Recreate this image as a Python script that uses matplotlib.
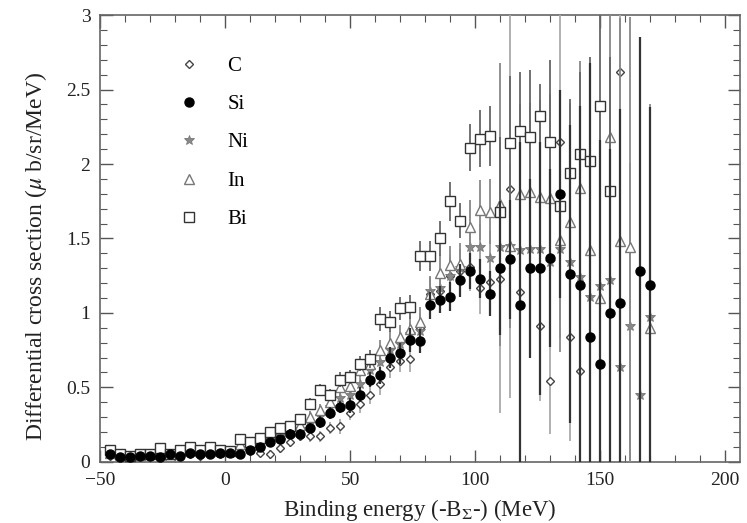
import numpy as np
import matplotlib
matplotlib.use("Agg")
import matplotlib.pyplot as plt
from matplotlib.ticker import MultipleLocator

plt.rcParams['font.family'] = ['Liberation Serif', 'DejaVu Serif']
plt.rcParams['mathtext.fontset'] = 'stix'

nan = np.nan

# binding energy bins (MeV), 4 MeV wide
energy = np.arange(-46, 171, 4)

c_val = [0.04, 0.03, 0.03, 0.03, 0.04, 0.03, 0.04, 0.05, 0.05, 0.04, 0.06, 0.05, 0.06, 0.05, 0.07, 0.06,
         0.05, 0.09, 0.13, 0.17, 0.17, 0.17, 0.23, 0.24, 0.33, 0.39, 0.45, 0.52, 0.64, 0.68, 0.69, 0.90,
         1.13, 1.15, 1.25, 1.28, 1.31, 1.17, 1.21, 1.23, 1.83, 1.14, nan, 0.91, 0.54, 2.15, 0.84, 0.61,
         nan, nan, nan, 2.62, nan, nan, nan]
c_err = [0.02, 0.02, 0.02, 0.02, 0.02, 0.02, 0.02, 0.02, 0.02, 0.02, 0.02, 0.02, 0.02, 0.02, 0.02, 0.03,
         0.03, 0.03, 0.03, 0.03, 0.04, 0.04, 0.04, 0.05, 0.05, 0.06, 0.06, 0.07, 0.08, 0.08, 0.09, 0.10,
         0.12, 0.13, 0.14, 0.15, 0.16, 0.18, 0.20, 0.9, 1.4, 0.55, nan, 0.5, 0.35, 1.2, 0.7, 0.9,
         nan, nan, nan, 1.6, nan, nan, nan]

si_val = [0.05, 0.03, 0.03, 0.04, 0.04, 0.03, 0.05, 0.04, 0.06, 0.05, 0.05, 0.06, 0.06, 0.05, 0.08, 0.10,
          0.13, 0.15, 0.19, 0.19, 0.23, 0.27, 0.33, 0.37, 0.38, 0.45, 0.55, 0.58, 0.70, 0.73, 0.82, 0.81,
          1.05, 1.09, 1.11, 1.22, 1.28, 1.23, 1.13, 1.30, 1.36, 1.05, 1.30, 1.30, 1.37, 1.80, 1.26, 1.19,
          0.84, 0.66, 1.00, 1.07, nan, 1.28, 1.19]
si_err = [0.015, 0.015, 0.015, 0.015, 0.015, 0.015, 0.015, 0.015, 0.02, 0.02, 0.02, 0.02, 0.02, 0.02, 0.02, 0.02,
          0.03, 0.03, 0.03, 0.03, 0.03, 0.04, 0.04, 0.04, 0.05, 0.05, 0.05, 0.06, 0.07, 0.07, 0.08, 0.08,
          0.09, 0.09, 0.10, 0.11, 0.12, 0.13, 0.15, 0.45, 0.40, 1.10, 0.60, 0.85, 0.60, 0.70, 1.00, 1.20,
          1.84, 1.50, 1.10, 1.30, nan, 1.57, 1.19]

ni_val = [0.05, 0.04, 0.03, 0.04, 0.04, 0.05, 0.04, 0.06, 0.07, 0.06, 0.07, 0.06, 0.06, 0.09, 0.09, 0.11,
          0.15, 0.17, 0.20, 0.22, 0.26, 0.31, 0.37, 0.43, 0.45, 0.52, 0.62, 0.67, 0.75, 0.79, 0.86, 0.88,
          1.15, 1.17, 1.25, 1.30, 1.44, 1.44, 1.37, 1.44, 1.45, 1.42, 1.43, 1.43, 1.34, 1.43, 1.34, 1.24,
          1.11, 1.18, 1.22, 0.64, 0.91, 0.45, 0.97]
ni_err = [0.02, 0.02, 0.02, 0.02, 0.02, 0.02, 0.02, 0.02, 0.02, 0.02, 0.02, 0.02, 0.02, 0.02, 0.02, 0.02,
          0.03, 0.03, 0.03, 0.03, 0.04, 0.04, 0.04, 0.05, 0.05, 0.05, 0.06, 0.06, 0.07, 0.08, 0.08, 0.09,
          0.10, 0.11, 0.12, 0.13, 0.15, 0.16, 0.18, 0.30, 0.35, 0.40, 0.45, 0.50, 0.55, 0.60, 0.65, 0.70,
          0.80, 0.90, 0.95, 1.00, 1.10, 1.20, 1.30]

in_val = [0.06, 0.04, 0.03, 0.04, 0.05, 0.07, 0.04, 0.07, 0.08, 0.07, 0.09, 0.07, 0.07, 0.12, 0.11, 0.13,
          0.17, 0.19, 0.21, 0.25, 0.30, 0.35, 0.40, 0.50, 0.51, 0.62, 0.66, 0.75, 0.80, 0.84, 0.89, 0.94,
          1.13, 1.27, 1.32, 1.33, 1.58, 1.69, 1.68, 1.73, 1.45, 1.80, 1.81, 1.78, 1.77, 1.49, 1.61, 1.84,
          1.42, 1.10, 2.18, 1.48, 1.44, nan, 0.90]
in_err = [0.02, 0.02, 0.02, 0.02, 0.02, 0.02, 0.02, 0.02, 0.02, 0.02, 0.02, 0.02, 0.02, 0.02, 0.02, 0.03,
          0.03, 0.03, 0.03, 0.03, 0.04, 0.04, 0.04, 0.05, 0.05, 0.05, 0.06, 0.07, 0.08, 0.08, 0.09, 0.10,
          0.11, 0.12, 0.13, 0.14, 0.18, 0.20, 0.22, 0.95, 0.55, 0.60, 0.60, 0.65, 0.70, 0.75, 0.80, 0.85,
          1.20, 1.30, 1.40, 1.50, 1.55, nan, 1.50]

bi_val = [0.08, 0.05, 0.04, 0.05, 0.05, 0.09, 0.05, 0.08, 0.10, 0.08, 0.10, 0.08, 0.07, 0.15, 0.13, 0.16,
          0.20, 0.23, 0.24, 0.29, 0.39, 0.48, 0.45, 0.55, 0.57, 0.66, 0.69, 0.96, 0.94, 1.03, 1.04, 1.38,
          1.38, 1.50, 1.75, 1.62, 2.11, 2.17, 2.19, 1.68, 2.14, 2.22, 2.18, 2.32, 2.15, 1.72, 1.94, 2.07,
          2.02, 2.39, 1.82, nan, nan, nan, nan]
bi_err = [0.02, 0.02, 0.02, 0.02, 0.02, 0.02, 0.02, 0.02, 0.02, 0.02, 0.02, 0.02, 0.02, 0.02, 0.03, 0.03,
          0.03, 0.03, 0.03, 0.03, 0.04, 0.04, 0.04, 0.05, 0.05, 0.05, 0.06, 0.08, 0.07, 0.08, 0.08, 0.10,
          0.10, 0.12, 0.13, 0.12, 0.16, 0.19, 0.20, 0.50, 0.45, 0.40, 0.45, 0.22, 0.55, 0.60, 0.50, 0.55,
          0.70, 0.80, 0.90, nan, nan, nan, nan]

fig = plt.figure(figsize=(7.47, 5.23), dpi=100)
ax = fig.add_axes([0.134, 0.117, 0.857, 0.854])

# open diamonds, light bars
ax.errorbar(energy, c_val, yerr=c_err, fmt='D', ms=4, mfc='white', mec='#444444', mew=1.0,
            ecolor='#aaaaaa', elinewidth=1.3, capsize=0, label='C', zorder=3)
# stars
ax.errorbar(energy, ni_val, yerr=ni_err, fmt='*', ms=7, mfc='#888888', mec='#777777', mew=0.6,
            ecolor='#999999', elinewidth=1.3, capsize=0, label='Ni', zorder=3)
# open triangles
ax.errorbar(energy, in_val, yerr=in_err, fmt='^', ms=6.5, mfc='white', mec='#777777', mew=1.0,
            ecolor='#888888', elinewidth=1.3, capsize=0, label='In', zorder=4)
# open squares
ax.errorbar(energy, bi_val, yerr=bi_err, fmt='s', ms=6.5, mfc='white', mec='#333333', mew=1.0,
            ecolor='#666666', elinewidth=1.3, capsize=0, label='Bi', zorder=5)
# filled circles
ax.errorbar(energy, si_val, yerr=si_err, fmt='o', ms=6.5, mfc='black', mec='black',
            ecolor='#333333', elinewidth=1.6, capsize=0, label='Si', zorder=6)

ax.set_xlim(-50, 206)
ax.set_ylim(0, 3)
ax.xaxis.set_major_locator(MultipleLocator(50))
ax.xaxis.set_minor_locator(MultipleLocator(10))
ax.yaxis.set_major_locator(MultipleLocator(0.5))
ax.yaxis.set_minor_locator(MultipleLocator(0.1))
ax.set_yticks([0, 0.5, 1, 1.5, 2, 2.5, 3])
ax.set_yticklabels(['0', '0.5', '1', '1.5', '2', '2.5', '3'])

ax.tick_params(which='both', direction='in', top=True, right=True, colors='#555555',
               labelcolor='#222222', labelsize=14)
ax.tick_params(which='major', length=9, width=1.0, pad=7)
ax.tick_params(which='minor', length=5, width=0.8)
for s in ax.spines.values():
    s.set_color('#666666')
    s.set_linewidth(1.2)

ax.set_xlabel(r'Binding energy (-B$_{\Sigma}$-) (MeV)', fontsize=16.5, color='#222222', labelpad=6)
ax.set_ylabel(r'Differential cross section ($\mu$ b/sr/MeV)', fontsize=17, color='#222222')
ax.yaxis.set_label_coords(-0.08, 0.46)

handles, labels = ax.get_legend_handles_labels()
order = [labels.index(n) for n in ['C', 'Si', 'Ni', 'In', 'Bi']]
leg = ax.legend([handles[i][0] for i in order], [labels[i] for i in order],
                loc='upper left', bbox_to_anchor=(0.085, 0.95), frameon=False,
                fontsize=15, handletextpad=1.1, labelspacing=0.9, handlelength=1.5)

fig.savefig('out.png', dpi=100)
